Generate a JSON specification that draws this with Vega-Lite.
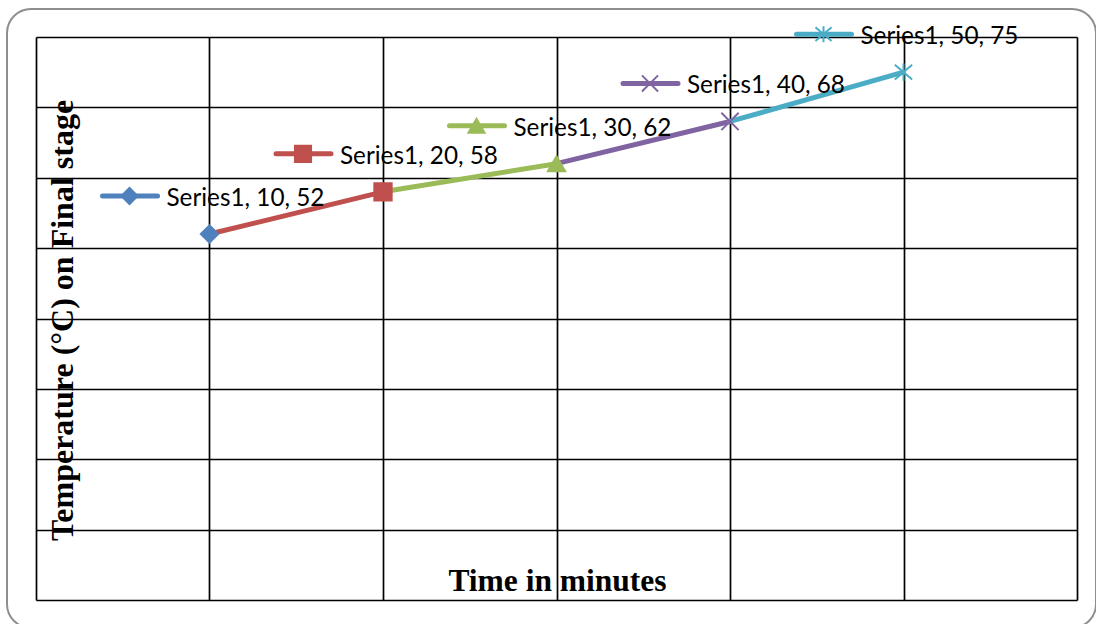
{
  "$schema": "https://vega.github.io/schema/vega-lite/v6.json",
  "width": 1089,
  "height": 619,
  "autosize": {"type": "none"},
  "padding": {"left": 7, "top": 9, "right": 0, "bottom": 0},
  "background": "white",
  "config": {
    "view": {"stroke": "#8E8E8E", "strokeWidth": 2, "cornerRadius": 24}
  },
  "datasets": {
    "points": [
      {"series": "P1", "time": 10, "temp": 52, "label": "Series1, 10, 52"},
      {"series": "P2", "time": 20, "temp": 58, "label": "Series1, 20, 58"},
      {"series": "P3", "time": 30, "temp": 62, "label": "Series1, 30, 62"},
      {"series": "P4", "time": 40, "temp": 68, "label": "Series1, 40, 68"},
      {"series": "P5", "time": 50, "temp": 75, "label": "Series1, 50, 75"}
    ],
    "segments": [
      {"series": "P2", "time": 10, "temp": 52},
      {"series": "P2", "time": 20, "temp": 58},
      {"series": "P3", "time": 20, "temp": 58},
      {"series": "P3", "time": 30, "temp": 62},
      {"series": "P4", "time": 30, "temp": 62},
      {"series": "P4", "time": 40, "temp": 68},
      {"series": "P5", "time": 40, "temp": 68},
      {"series": "P5", "time": 50, "temp": 75}
    ]
  },
  "encoding": {
    "x": {
      "field": "time",
      "type": "quantitative",
      "scale": {"domain": [0, 60], "range": [29, 1070], "nice": false, "zero": false},
      "axis": {
        "values": [0, 10, 20, 30, 40, 50, 60],
        "grid": true,
        "gridColor": "black",
        "gridWidth": 1.7,
        "gridOpacity": 1,
        "labels": false,
        "ticks": false,
        "domain": false,
        "title": "Time in minutes",
        "titleFont": "Liberation Serif",
        "titleFontSize": 31.5,
        "titleFontWeight": "bold",
        "titleColor": "black",
        "titleX": 550,
        "titleY": -38,
        "titleAlign": "center",
        "titleBaseline": "alphabetic"
      }
    },
    "y": {
      "field": "temp",
      "type": "quantitative",
      "scale": {"domain": [0, 80], "range": [591, 28], "nice": false, "zero": false},
      "axis": {
        "values": [0, 10, 20, 30, 40, 50, 60, 70, 80],
        "grid": true,
        "gridColor": "black",
        "gridWidth": 1.7,
        "gridOpacity": 1,
        "labels": false,
        "ticks": false,
        "domain": false,
        "title": "Temperature (°C) on Final stage",
        "titleFont": "Liberation Serif",
        "titleFontSize": 32,
        "titleFontWeight": "bold",
        "titleColor": "black",
        "titleAngle": -90,
        "titleX": 65,
        "titleY": 311,
        "titleAlign": "center",
        "titleBaseline": "alphabetic"
      }
    }
  },
  "layer": [
    {
      "data": {"name": "segments"},
      "mark": {"type": "line", "strokeWidth": 5, "strokeCap": "round"},
      "encoding": {
        "color": {
          "field": "series",
          "type": "nominal",
          "scale": {"domain": ["P1", "P2", "P3", "P4", "P5"], "range": ["#4F81BD", "#C0504D", "#9BBB59", "#8064A2", "#4BACC6"]},
          "legend": null
        }
      }
    },
    {
      "data": {"name": "points"},
      "mark": {"type": "rule", "strokeWidth": 5, "strokeCap": "round", "xOffset": -107, "x2Offset": -52, "yOffset": -38},
      "encoding": {
        "x2": {"field": "time"},
        "color": {"field": "series", "type": "nominal", "legend": null}
      }
    },
    {
      "data": {"name": "points"},
      "mark": {"type": "point", "filled": true, "opacity": 1, "strokeWidth": 2, "size": 260, "xOffset": -80, "yOffset": -38},
      "encoding": {
        "color": {"field": "series", "type": "nominal", "legend": null},
        "stroke": {
          "field": "series",
          "type": "nominal",
          "scale": {"domain": ["P1", "P2", "P3", "P4", "P5"], "range": ["#4F81BD", "#C0504D", "#9BBB59", "#8064A2", "#4BACC6"]},
          "legend": null
        },
        "shape": {
          "field": "series",
          "type": "nominal",
          "scale": {"domain": ["P1", "P2", "P3", "P4", "P5"], "range": ["diamond", "square", "triangle-up", "M-1,-1L1,1M-1,1L1,-1", "M-1,-0.85L1,0.85M-1,0.85L1,-0.85M0,-1L0,1"]},
          "legend": null
        }
      }
    },
    {
      "data": {"name": "points"},
      "mark": {"type": "point", "filled": true, "opacity": 1, "strokeWidth": 2, "size": 300},
      "encoding": {
        "color": {"field": "series", "type": "nominal", "legend": null},
        "stroke": {"field": "series", "type": "nominal", "legend": null},
        "shape": {"field": "series", "type": "nominal", "legend": null}
      }
    },
    {
      "data": {"name": "points"},
      "mark": {"type": "text", "align": "left", "baseline": "alphabetic", "dx": -43, "dy": -28, "font": "Lato", "fontSize": 24.3, "color": "black"},
      "encoding": {
        "text": {"field": "label"}
      }
    }
  ]
}
